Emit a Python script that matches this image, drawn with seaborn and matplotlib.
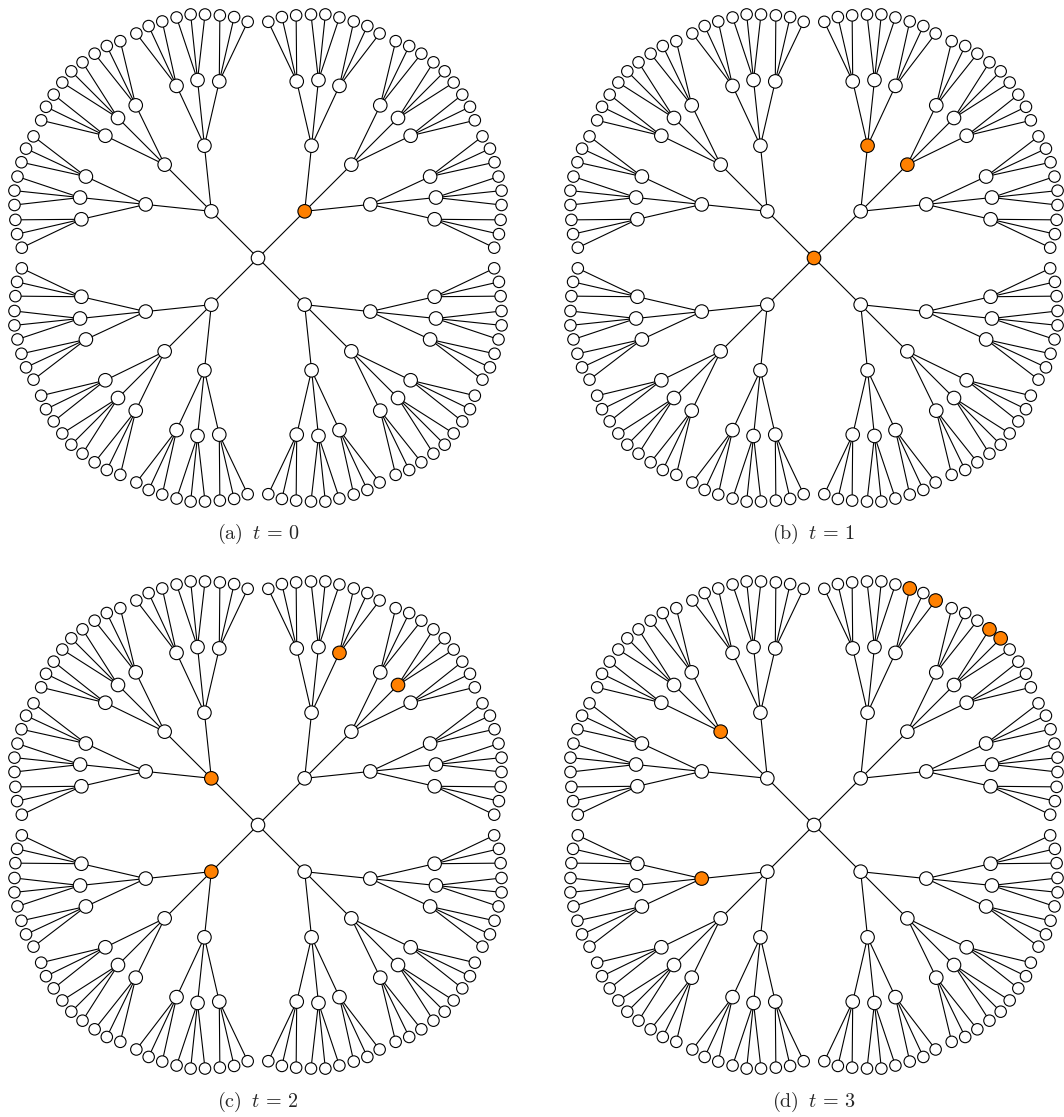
import numpy as np
import pandas as pd
import seaborn as sns
import matplotlib.pyplot as plt
from matplotlib.collections import LineCollection

# cây: gốc có 4 nhánh, sau đó mỗi nút có 3 con (3 tầng)
branching = [4, 3, 3, 3]
edge_len = 66
first_angles = [45, 135, 225, 315]
spread = [39, 19, 12.5]   # góc giữa các nút anh em ở tầng 2, 3, 4

# các nút tô màu cam ở mỗi bước t (đường đi từ gốc theo chỉ số con)
steps = [0, 1, 2, 3]
panel_tags = ['(a)', '(b)', '(c)', '(d)']
active = [
    [(0,)],
    [(), (0, 1), (0, 2)],
    [(1,), (2,), (0, 2, 0), (0, 1, 1)],
    [(1, 1), (2, 0), (0, 2, 0, 0), (0, 2, 0, 2), (0, 1, 1, 1), (0, 1, 1, 2)],
]

# bố cục cây (mỗi cạnh dài cố định, con lệch góc so với cha)
rows = []
edges = []


def grow(path, x, y, ang):
    rows.append({'path': path, 'x': x, 'y': y, 'depth': len(path)})
    d = len(path)
    if d == len(branching):
        return
    for k in range(branching[d]):
        a = first_angles[k] if d == 0 else ang + (k - 1) * spread[d - 1]
        nx = x + edge_len * np.cos(np.radians(a))
        ny = y + edge_len * np.sin(np.radians(a))
        edges.append([(x, y), (nx, ny)])
        grow(path + (k,), nx, ny, a)


grow((), 0.0, 0.0, 0.0)
nodes = pd.DataFrame(rows)

W, H = 1064, 1117
R = 262
centers = [(258, 258), (814, 258), (258, 825), (814, 825)]
caption_y = [534, 534, 1102, 1102]

sns.set_style('white')
plt.rcParams['mathtext.fontset'] = 'cm'

fig = plt.figure(figsize=(W / 100, H / 100), dpi=100)

for i, (cx, cy) in enumerate(centers):
    ax = fig.add_axes([(cx - R) / W, 1 - (cy + R) / H, 2 * R / W, 2 * R / H])
    df = nodes.copy()
    on = set(active[i])
    df['state'] = ['on' if p in on else 'off' for p in df['path']]
    df['kind'] = np.where((df['depth'] < len(branching)) | (df['state'] == 'on'), 'inner', 'leaf')
    df = df.sort_values('state', key=lambda s: s == 'on', kind='stable')

    ax.add_collection(LineCollection(edges, colors='black', linewidths=0.8, zorder=1))
    sns.scatterplot(data=df, x='x', y='y', hue='state', size='kind',
                    palette={'on': '#ff8000', 'off': 'white'},
                    sizes={'inner': 95, 'leaf': 68},
                    edgecolor='black', linewidth=0.8, legend=False,
                    zorder=2, ax=ax)
    ax.set_xlim(-R, R)
    ax.set_ylim(-R, R)
    ax.set_aspect('equal')
    ax.axis('off')

    fig.text(cx / W, 1 - caption_y[i] / H,
             r'$\mathrm{' + panel_tags[i] + r'}\;\;t\,=\,' + str(steps[i]) + '$',
             ha='center', va='center', fontsize=14.5)

fig.savefig('out.png', dpi=100)
